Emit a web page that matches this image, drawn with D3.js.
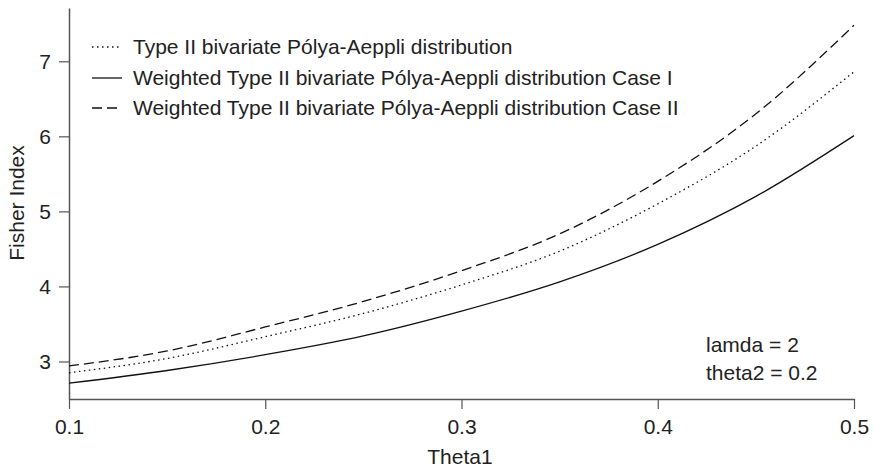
<!DOCTYPE html>
<html><head><meta charset="utf-8">
<script src="https://cdn.jsdelivr.net/npm/d3@7"></script>
<style>body{margin:0;background:#fff}svg{display:block}text{font-family:"Liberation Sans",Arial,sans-serif;fill:#222}</style>
</head><body><svg id="c" width="875" height="468"></svg>
<script>
const theta1 = [0.10,0.15,0.20,0.25,0.30,0.35,0.40,0.45,0.50];
const typeII = [2.85,3.04,3.33,3.64,4.02,4.47,5.10,5.87,6.86];
const weightedCaseI = [2.71,2.88,3.09,3.34,3.67,4.06,4.56,5.20,6.01];
const weightedCaseII = [2.94,3.14,3.46,3.80,4.21,4.70,5.40,6.30,7.48];
const xTicks = [0.1,0.2,0.3,0.4,0.5];
const yTicks = [3,4,5,6,7];
const seriesNames = ["Type II bivariate Pólya-Aeppli distribution","Weighted Type II bivariate Pólya-Aeppli distribution Case I","Weighted Type II bivariate Pólya-Aeppli distribution Case II"];
const notes = ["lamda = 2","theta2 = 0.2"];

const FS = "21px";
const svg = d3.select("#c");
const x = d3.scaleLinear().domain([0.1,0.5]).range([69,854]);
const y = d3.scaleLinear().domain([2.5,7.71]).range([399,8]);
const axisColor = "#555";

const gx = svg.append("g").attr("transform","translate(0,399)")
  .call(d3.axisBottom(x).tickValues(xTicks).tickFormat(d3.format(".1f")).tickSize(10).tickSizeOuter(0).tickPadding(10));
const gy = svg.append("g").attr("transform","translate(69,0)")
  .call(d3.axisLeft(y).tickValues(yTicks).tickFormat(d3.format("d")).tickSize(10).tickSizeOuter(0).tickPadding(8));
[gx,gy].forEach(g=>{
  g.select(".domain").attr("stroke",axisColor).attr("stroke-width",1.5);
  g.selectAll(".tick line").attr("stroke",axisColor).attr("stroke-width",1.2);
  g.selectAll(".tick text").style("font-size",FS).attr("fill","#222");
});

const styles = [
  {data:typeII, dash:"1.5,3.5"},
  {data:weightedCaseI, dash:null},
  {data:weightedCaseII, dash:"10,5"}
];
const line = d3.line().x((d,i)=>x(theta1[i])).y(d=>y(d)).curve(d3.curveMonotoneX);
styles.forEach(s=>{
  svg.append("path").attr("d",line(s.data)).attr("fill","none")
    .attr("stroke","#111").attr("stroke-width",1.3)
    .attr("stroke-dasharray",s.dash);
});

// legend
const legY = [47,78,108];
styles.forEach((s,i)=>{
  svg.append("line").attr("x1",92).attr("x2",122).attr("y1",legY[i]).attr("y2",legY[i])
    .attr("stroke","#111").attr("stroke-width",1.3).attr("stroke-dasharray",s.dash);
  svg.append("text").attr("x",133).attr("y",legY[i]).attr("dy","0.35em")
    .style("font-size",FS).text(seriesNames[i]);
});

notes.forEach((t,i)=>{
  svg.append("text").attr("x",706).attr("y",345+i*28).attr("dy","0.35em")
    .style("font-size",FS).text(t);
});

svg.append("text").attr("x",460).attr("y",457).attr("dy","0.35em").attr("text-anchor","middle")
  .style("font-size",FS).text("Theta1");
svg.append("text").attr("transform","translate(17,203) rotate(-90)").attr("dy","0.35em").attr("text-anchor","middle")
  .style("font-size",FS).text("Fisher Index");
</script></body></html>
